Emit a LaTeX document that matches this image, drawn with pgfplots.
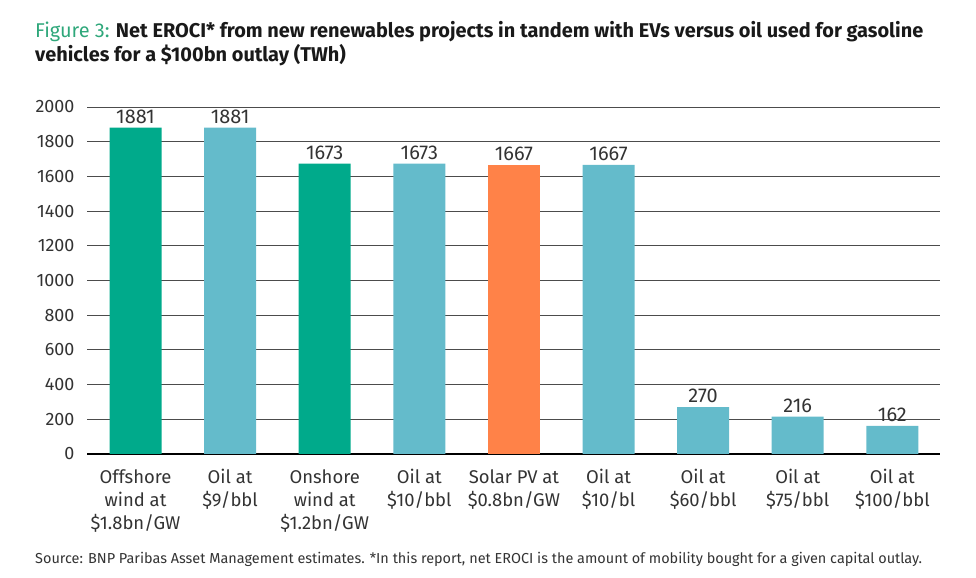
\documentclass[border=0pt]{standalone}
\usepackage{pgfplots}
\pgfplotsset{compat=1.18}
\usepackage{fontspec}
\setmainfont{Fira Sans}
\definecolor{cgreen}{HTML}{00AA8B}
\definecolor{cblue}{HTML}{64BBCB}
\definecolor{corange}{HTML}{FF8248}
\definecolor{tgreen}{HTML}{2EA77A}
\definecolor{txt}{HTML}{333333}
\begin{document}
\begin{tikzpicture}[x=1bp,y=1bp]
\useasboundingbox (0,0) rectangle (976,578);
\begin{axis}[
  at={(87bp,124bp)}, anchor=south west,
  scale only axis, width=853bp, height=347bp,
  ymin=0, ymax=2000, xmin=-0.513, xmax=8.504,
  ytick={0,200,...,2000},
  xtick={0,...,8},
  xticklabels={{Offshore\\wind at\\\$1.8bn/GW},{Oil at\\\$9/bbl},{Onshore\\wind at\\\$1.2bn/GW},{Oil at\\\$10/bbl},{Solar PV at\\\$0.8bn/GW},{Oil at\\\$10/bl},{Oil at\\\$60/bbl},{Oil at\\\$75/bbl},{Oil at\\\$100/bbl}},
  ymajorgrids, grid style={color=black!70, line width=0.8bp},
  axis x line=bottom, axis y line=left,
  y axis line style={draw=none},
  x axis line style={black, line width=1.6bp, -},
  major tick length=0pt,
  /pgf/number format/assume math mode=true,
  /pgf/number format/1000 sep={},
  yticklabel style={font=\fontsize{18}{20}\selectfont, color=txt, xshift=-9bp},
  xticklabel style={font=\fontsize{18.5}{23}\selectfont, color=txt, align=center, yshift=-12bp},
  ybar, bar width=52bp, bar shift=0pt,
  nodes near coords={\fontsize{20}{22}\selectfont\pgfmathprintnumber{\pgfplotspointmeta}},
  every node near coord/.append style={color=txt, inner sep=2.5bp, yshift=1.5bp},
  clip=false,
]
\addplot[draw=none, fill=cgreen] coordinates {(0,1881) (2,1673)};
\addplot[draw=none, fill=cblue] coordinates {(1,1881) (3,1673) (5,1667) (6,270) (7,216) (8,162)};
\addplot[draw=none, fill=corange] coordinates {(4,1667)};
\end{axis}
\node[anchor=base west, font=\fontsize{20}{24}\selectfont\bfseries, color=black!90, inner sep=0] at (35,540) {{\color{tgreen}\mdseries Figure 3:} Net EROCI* from new renewables projects in tandem with EVs versus oil used for gasoline};
\node[anchor=base west, font=\fontsize{20}{24}\selectfont\bfseries, color=black!90, inner sep=0] at (35,516) {vehicles for a \$100bn outlay (TWh)};
\node[anchor=base west, font=\fontsize{14.5}{16}\selectfont, color=txt, inner sep=0] at (35,14) {Source: BNP Paribas Asset Management estimates. *In this report, net EROCI is the amount of mobility bought for a given capital outlay.};
\end{tikzpicture}
\end{document}
